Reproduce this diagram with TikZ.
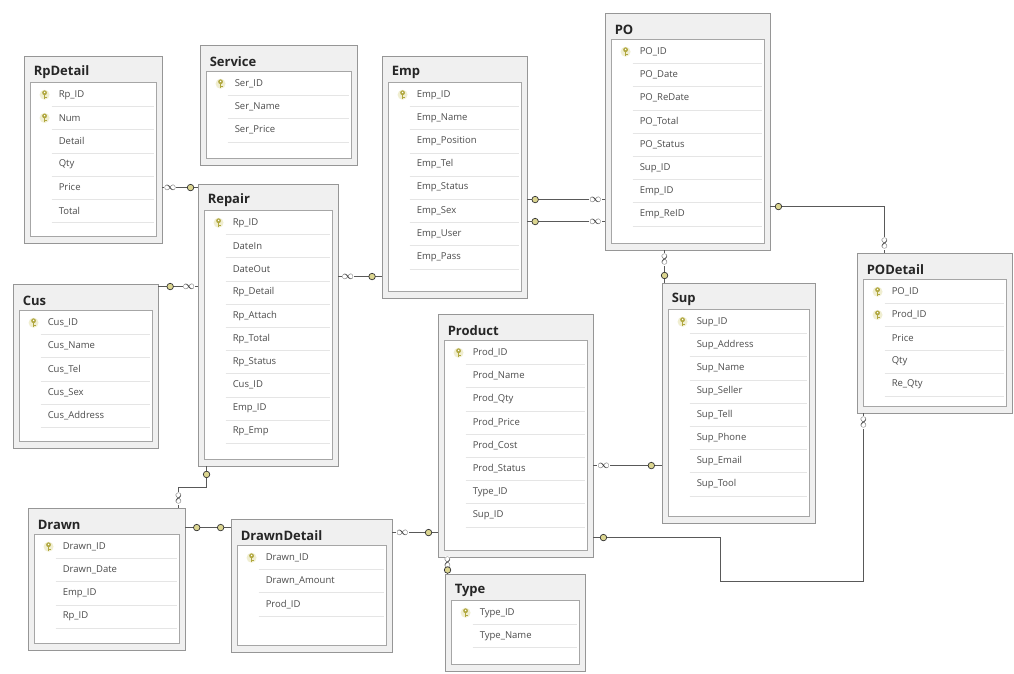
\documentclass[tikz,border=0pt]{standalone}
\usepackage{fontspec}
\setmainfont{Open Sans}
\usetikzlibrary{calc,fit}
\definecolor{keyyellow}{RGB}{196,186,70}
\definecolor{boxgray}{RGB}{150,150,150}
\tikzstyle{tablebox}=[draw=boxgray,fill=black!6,inner sep=0pt,line width=0.9pt]
\tikzstyle{tabletitle}=[font=\bfseries\fontsize{13}{13}\selectfont,text=black!85,inner sep=0pt]
\tikzstyle{innerbox}=[draw=black!35,fill=white,line width=0.6pt]
\tikzstyle{fieldname}=[font=\fontsize{9.5}{10}\selectfont,text=black!70,inner sep=0pt]
\tikzstyle{rowline}=[draw=black!10,line width=0.5pt]
\tikzstyle{link}=[draw=black!65,line width=1.3pt]
\tikzstyle{keyend}=[circle,draw=black!80,fill=keyyellow!60,inner sep=0pt,minimum size=6.5pt,line width=0.7pt]
\tikzstyle{manyend}=[fill=white,inner sep=0.2pt,font=\fontsize{13}{13}\selectfont,text=black!80]
\tikzset{keyglyph/.pic={
  \fill[keyyellow!25] (0,0) circle (5);
  \fill[keyyellow!90!black] (0,-2) circle (2.4);
  \fill[keyyellow!90!black] (-0.8,-1) rectangle (0.8,4.5);
  \fill[keyyellow!90!black] (0.8,2.2) rectangle (2.2,3.2);
  \fill[white] (0,-2.3) circle (0.8);
}}
% one table of the diagram: name, corners, title, key/field list
\newcommand{\dbtable}[5]{%
  \node[tablebox,fit={#2 #3}] (#1) {};
  \node[tabletitle,anchor=west] (#1-title) at ($(#1.north west)+(10,17)$) {#4};
  \path[innerbox] ($(#1.north west)+(7,27)$) rectangle ($(#1.south east)+(-6,-7)$);
  \foreach[count=\i] \k/\f in {#5}{%
    \draw[rowline] ($(#1.north west)+(28,27.6+23.2*\i)$) -- ($(#1.north east)+(-8,27.6+23.2*\i)$);
    \node[fieldname,anchor=west] (#1-\i) at ($(#1.north west)+(35,16+23.2*\i)$) {\f};
    \ifnum\k=1 \pic at ($(#1.north west)+(21,16+23.2*\i)$) {keyglyph};\fi
  }%
}

\begin{document}
\begin{tikzpicture}[x=1pt,y=-1pt]
  \useasboundingbox[fill=white] (0,0) rectangle (1014,673);

  \dbtable{rpdetail}{(24,56)}{(162,243)}{RpDetail}{1/Rp\_ID,1/Num,0/Detail,0/Qty,0/Price,0/Total}
  \dbtable{service}{(200,45)}{(357,165)}{Service}{1/Ser\_ID,0/Ser\_Name,0/Ser\_Price}
  \dbtable{emp}{(382,56)}{(527,298)}{Emp}{1/Emp\_ID,0/Emp\_Name,0/Emp\_Position,0/Emp\_Tel,0/Emp\_Status,0/Emp\_Sex,0/Emp\_User,0/Emp\_Pass}
  \dbtable{po}{(605,13)}{(770,250)}{PO}{1/PO\_ID,0/PO\_Date,0/PO\_ReDate,0/PO\_Total,0/PO\_Status,0/Sup\_ID,0/Emp\_ID,0/Emp\_ReID}
  \dbtable{repair}{(198,184)}{(338,466)}{Repair}{1/Rp\_ID,0/DateIn,0/DateOut,0/Rp\_Detail,0/Rp\_Attach,0/Rp\_Total,0/Rp\_Status,0/Cus\_ID,0/Emp\_ID,0/Rp\_Emp}
  \dbtable{cus}{(13,284)}{(158,448)}{Cus}{1/Cus\_ID,0/Cus\_Name,0/Cus\_Tel,0/Cus\_Sex,0/Cus\_Address}
  \dbtable{sup}{(662,283)}{(815,523)}{Sup}{1/Sup\_ID,0/Sup\_Address,0/Sup\_Name,0/Sup\_Seller,0/Sup\_Tell,0/Sup\_Phone,0/Sup\_Email,0/Sup\_Tool}
  \dbtable{podetail}{(857,253)}{(1012,413)}{PODetail}{1/PO\_ID,1/Prod\_ID,0/Price,0/Qty,0/Re\_Qty}
  \dbtable{product}{(438,314)}{(593,557)}{Product}{1/Prod\_ID,0/Prod\_Name,0/Prod\_Qty,0/Prod\_Price,0/Prod\_Cost,0/Prod\_Status,0/Type\_ID,0/Sup\_ID}
  \dbtable{drawn}{(28,508)}{(185,650)}{Drawn}{1/Drawn\_ID,0/Drawn\_Date,0/Emp\_ID,0/Rp\_ID}
  \dbtable{drawndetail}{(231,519)}{(392,652)}{DrawnDetail}{1/Drawn\_ID,0/Drawn\_Amount,0/Prod\_ID}
  \dbtable{type}{(445,574)}{(585,671)}{Type}{1/Type\_ID,0/Type\_Name}

  % relationships
  \draw[link] (rpdetail.east |- rpdetail-5) -- (repair.west |- rpdetail-5)
    node[manyend,pos=0.22] (m1) {$\infty$} node[keyend,pos=0.8] (k1) {};
  \draw[link] ($(cus.north east)+(0,3)$) coordinate (c2) -- (repair.west |- c2)
    node[keyend,pos=0.3] (k2) {} node[manyend,pos=0.78] (m2) {$\infty$};
  \draw[link] ($(repair.north east)+(0,93)$) coordinate (c3) -- (emp.west |- c3)
    node[manyend,pos=0.22] (m3) {$\infty$} node[keyend,pos=0.78] (k3) {};
  \draw[link] ($(emp.north east)+(0,144)$) coordinate (c4) -- (po.west |- c4)
    node[keyend,pos=0.1] (k4) {} node[manyend,pos=0.88] (m4) {$\infty$};
  \draw[link] ($(emp.north east)+(0,166)$) coordinate (c4b) -- (po.west |- c4b)
    node[keyend,pos=0.1] (k4b) {} node[manyend,pos=0.88] (m4b) {$\infty$};
  \draw[link] ($(po.north east)+(0,194)$) coordinate (c5) -| ($(podetail.north west)+(28,0)$) coordinate (c5b);
  \node[keyend] (k5) at ($(c5)+(8,0)$) {};
  \node[manyend,rotate=90] (m5) at ($(c5b)+(0,-9)$) {$\infty$};
  \draw[link] ($(po.south west)+(60,0)$) coordinate (c6) -- (sup.north -| c6)
    node[manyend,rotate=90,pos=0.28] (m6) {$\infty$} node[keyend,pos=0.78] (k6) {};
  \draw[link] ($(product.north east)+(0,152)$) coordinate (c7) -- (sup.west |- c7)
    node[manyend,pos=0.15] (m7) {$\infty$} node[keyend,pos=0.85] (k7) {};
  \draw[link] ($(product.north east)+(0,224)$) coordinate (c8) -- ++(127,0) -- ++(0,44)
    -| ($(podetail.south west)+(7,0)$) coordinate (c8b);
  \node[keyend] (k8) at ($(c8)+(10,0)$) {};
  \node[manyend,rotate=90] (m8) at ($(c8b)+(0,9)$) {$\infty$};
  \draw[link] ($(drawndetail.north east)+(0,14)$) coordinate (c9) -- (product.west |- c9)
    node[manyend,pos=0.22] (m9) {$\infty$} node[keyend,pos=0.8] (k9) {};
  \draw[link] ($(product.south west)+(10,0)$) coordinate (c10) -- (type.north -| c10)
    node[manyend,rotate=90,pos=0.3] (m10) {$\infty$} node[keyend,pos=0.78] (k10) {};
  \draw[link] ($(repair.south west)+(9,0)$) coordinate (c11) -- ++(0,21)
    -| ($(drawn.north east)+(-7,0)$) coordinate (c11b);
  \node[keyend] (k11) at ($(c11)+(0,8)$) {};
  \node[manyend,rotate=90] (m11) at ($(c11b)+(0,-9)$) {$\infty$};
  \draw[link] ($(drawn.north east)+(0,20)$) coordinate (c12) -- (drawndetail.west |- c12)
    node[keyend,pos=0.25] (k12) {} node[keyend,pos=0.78] (k12b) {};
\end{tikzpicture}
\end{document}
